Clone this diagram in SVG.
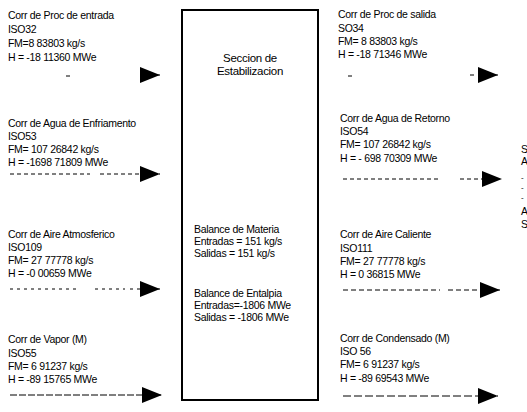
<svg xmlns="http://www.w3.org/2000/svg" width="527" height="412" viewBox="0 0 527 412">
<defs>
<style>
text{font-family:"Liberation Sans",Arial,sans-serif;font-size:10.5px;fill:#000;letter-spacing:-0.3px}
.c{text-anchor:middle;font-size:11.5px}
.s{font-size:8px}
.d{stroke:#000;stroke-width:1;fill:none}
.box{fill:#fff;stroke:#000;stroke-width:2}
</style>
<marker id="ah" markerWidth="20" markerHeight="16" refX="20" refY="8" orient="auto" markerUnits="userSpaceOnUse">
<path d="M0,0 L20,8 L0,16 Z" fill="#000"/>
</marker>
</defs>
<rect width="527" height="412" fill="#fff"/>
<g id="seccion">
<rect class="box" x="182" y="10" width="136" height="390"/>
<text class="c" x="250" y="62">Seccion de</text>
<text class="c" x="250" y="75">Estabilizacion</text>
<text x="194" y="233">Balance de Materia</text>
<text x="194" y="245">Entradas = 151 kg/s</text>
<text x="194" y="257">Salidas  =  151 kg/s</text>
<text x="194" y="297">Balance de Entalpia</text>
<text x="194" y="309">Entradas=-1806 MWe</text>
<text x="194" y="321">Salidas = -1806 MWe</text>
</g>
<g id="iso32">
<text x="8" y="19">Corr de Proc de entrada</text>
<text x="8" y="33">ISO32</text>
<text x="8" y="47">FM=8 83803 kg/s</text>
<text x="8" y="61">H = -18 11360 MWe</text>
</g>
<g id="iso53">
<text x="8" y="127">Corr de Agua de Enfriamento</text>
<text x="8" y="140">ISO53</text>
<text x="8" y="153">FM= 107 26842 kg/s</text>
<text x="8" y="166">H = -1698 71809 MWe</text>
</g>
<g id="iso109">
<text x="8" y="238">Corr de Aire Atmosferico</text>
<text x="8" y="251">ISO109</text>
<text x="8" y="264">FM= 27 77778 kg/s</text>
<text x="8" y="277">H = -0 00659 MWe</text>
</g>
<g id="iso55">
<text x="8" y="343">Corr de Vapor (M)</text>
<text x="8" y="357">ISO55</text>
<text x="8" y="370">FM= 6 91237 kg/s</text>
<text x="8" y="383">H = -89 15765 MWe</text>
</g>
<g id="so34">
<text x="338" y="18">Corr de Proc de salida</text>
<text x="338" y="32">SO34</text>
<text x="338" y="45">FM= 8 83803 kg/s</text>
<text x="338" y="58">H = -18 71346 MWe</text>
</g>
<g id="iso54">
<text x="340" y="122">Corr de Agua de Retorno</text>
<text x="340" y="135">ISO54</text>
<text x="340" y="148">FM= 107 26842 kg/s</text>
<text x="340" y="162">H = - 698 70309 MWe</text>
</g>
<g id="iso111">
<text x="340" y="238">Corr de Aire Caliente</text>
<text x="340" y="252">ISO111</text>
<text x="340" y="265">FM= 27 77778 kg/s</text>
<text x="340" y="278">H = 0 36815 MWe</text>
</g>
<g id="iso56">
<text x="340" y="342">Corr de Condensado (M)</text>
<text x="340" y="355">ISO 56</text>
<text x="340" y="368">FM= 6 91237 kg/s</text>
<text x="340" y="382">H = -89 69543 MWe</text>
</g>
<g id="edge">
<text x="521" y="153">S</text>
<text x="521" y="165">A</text>
<text class="s" x="521" y="180">-</text>
<text class="s" x="521" y="190">-</text>
<text class="s" x="521" y="200">-</text>
<text x="521" y="215">A</text>
<text x="521" y="228">S</text>
</g>
<g id="connectors">
<path class="d" d="M66,76 H70" />
<path class="d" d="M150,75 H160" marker-end="url(#ah)"/>
<path class="d" d="M10,174 H90 M100,174 H140 M152,174 H160" stroke-dasharray="4,3" marker-end="url(#ah)"/>
<path class="d" d="M10,289 H80 M95,289 H125 M130,289 H160" stroke-dasharray="3,4" stroke-width="0.7" marker-end="url(#ah)"/>
<path class="d" d="M10,395 H162" stroke-dasharray="7,2" marker-end="url(#ah)"/>
<path class="d" d="M348,76 H352 M470,75 H474"/>
<path class="d" d="M486,75 H498" marker-end="url(#ah)"/>
<path class="d" d="M343,179 H440 M460,179 H502" stroke-dasharray="4,3" marker-end="url(#ah)"/>
<path class="d" d="M343,290 H440 M448,290 H500" stroke-dasharray="5,3" marker-end="url(#ah)"/>
<path class="d" d="M343,396 H498" stroke-dasharray="8,3" marker-end="url(#ah)"/>
</g>
</svg>
